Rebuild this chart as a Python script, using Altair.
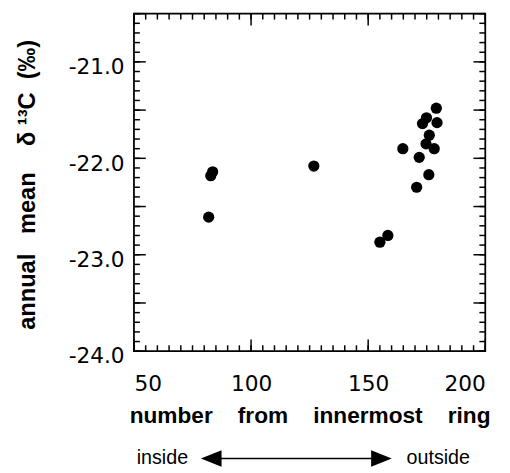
import altair as alt
import pandas as pd

# ---- data ----
ring_number = [82.8, 83.6, 81.9, 126.8, 155.0, 158.4, 179.1, 174.9, 173.2,
               179.4, 176.1, 174.7, 178.2, 164.8, 171.8, 175.9, 170.7]
d13c = [-22.18, -22.14, -22.61, -22.08, -22.87, -22.80, -21.48, -21.58, -21.64,
        -21.63, -21.76, -21.85, -21.90, -21.90, -21.99, -22.17, -22.30]

x_labels = [50, 100, 150, 200]
x_major = [50, 100, 150, 200]
x_minor = [50, 55, 60, 65, 70, 75, 80, 85, 90, 95, 100, 105, 110, 115, 120, 125,
           130, 135, 140, 145, 150, 155, 160, 165, 170, 175, 180, 185, 190, 195, 200]
y_labels = [-24.0, -23.0, -22.0, -21.0]
y_major = [-24.0, -23.5, -23.0, -22.5, -22.0, -21.5, -21.0, -20.5]
y_minor = [round(-24.0 + 0.1 * i, 1) for i in range(36)]

x_title = "number\u00a0\u00a0\u00a0\u00a0from\u00a0\u00a0\u00a0\u00a0innermost\u00a0\u00a0\u00a0\u00a0ring"
y_title = "annual\u00a0\u00a0\u00a0mean\u00a0\u00a0\u00a0\u00a0\u03b4\u00a0\u00b9\u00b3C\u00a0\u00a0(\u2030)"

df = pd.DataFrame({"ring": ring_number, "d13c": d13c})

W, H = 357, 343
xs = alt.Scale(domain=[50, 200], nice=False, zero=False)
ys = alt.Scale(domain=[-24.0, -20.5], nice=False, zero=False)

LABEL_FONT = "DejaVu Sans"
TITLE_FONT = "Liberation Sans"
TW = 1.5

x_axis = alt.Axis(orient="bottom", values=x_labels, ticks=False, domain=False,
                  grid=False, labelPadding=23, labelFont=LABEL_FONT,
                  labelFontSize=22, labelColor="black",
                  titleFont=TITLE_FONT, titleFontSize=23, titleFontWeight="bold",
                  titleColor="black", titleY=72, titleBaseline="alphabetic")
y_axis = alt.Axis(orient="left", values=y_labels, ticks=False, domain=False,
                  grid=False, labelPadding=10, labelFont=LABEL_FONT,
                  labelFontSize=22, labelColor="black", labelOffset=5,
                  labelExpr="'-' + format(abs(datum.value), '.1f')",
                  titleFont=TITLE_FONT, titleFontSize=24, titleFontWeight="bold",
                  titleColor="black", titleX=-108, titleY=H / 2 + 2,
                  titleAngle=270, titleAlign="center", titleBaseline="middle")


def xticks(vals, y0, y1):
    return alt.Chart(pd.DataFrame({"xv": vals})).mark_rule(color="black", strokeWidth=TW).encode(
        x=alt.X("xv:Q", scale=xs, axis=x_axis, title=x_title), y=alt.value(y0), y2=alt.value(y1))


def yticks(vals, x0, x1):
    return alt.Chart(pd.DataFrame({"yv": vals})).mark_rule(color="black", strokeWidth=TW).encode(
        y=alt.Y("yv:Q", scale=ys, axis=y_axis, title=y_title), x=alt.value(x0), x2=alt.value(x1))


tick_layers = [
    xticks(x_minor, H, H - 6), xticks(x_minor, 0, 6),
    xticks(x_major, H, H - 12), xticks(x_major, 0, 12),
    yticks(y_minor, 0, 6), yticks(y_minor, W, W - 6),
    yticks(y_major, 0, 12), yticks(y_major, W, W - 12),
]

points = alt.Chart(df).mark_circle(size=130, color="black", opacity=1).encode(
    x=alt.X("ring:Q", scale=xs, title=x_title, axis=x_axis),
    y=alt.Y("d13c:Q", scale=ys, title=y_title, axis=y_axis),
)

one = pd.DataFrame({"t": ["inside"]})
two = pd.DataFrame({"t": ["outside"]})

inside_txt = alt.Chart(one).mark_text(align="right", baseline="alphabetic", font=TITLE_FONT,
                                      fontSize=20, color="black").encode(
    x=alt.value(55), y=alt.value(458), text="t:N")
outside_txt = alt.Chart(two).mark_text(align="left", baseline="alphabetic", font=TITLE_FONT,
                                       fontSize=20, color="black").encode(
    x=alt.value(277), y=alt.value(458), text="t:N")
arrow_line = alt.Chart(one).mark_rule(color="black", strokeWidth=1.5).encode(
    x=alt.value(78), x2=alt.value(252), y=alt.value(452))
head_left = alt.Chart(one).mark_point(shape="M-1,0L1,-0.8L1,0.8Z", filled=True, size=441,
                                      color="black", opacity=1).encode(
    x=alt.value(78.5), y=alt.value(452))
head_right = alt.Chart(one).mark_point(shape="M1,0L-1,-0.8L-1,0.8Z", filled=True, size=441,
                                       color="black", opacity=1).encode(
    x=alt.value(251.5), y=alt.value(452))

chart = alt.layer(
    points, *tick_layers,
    inside_txt, outside_txt, arrow_line, head_left, head_right,
).properties(
    width=W, height=H,
    padding={"left": 128, "top": 2, "right": 17, "bottom": 118},
    autosize=alt.AutoSizeParams(type="none"),
    background="white",
).configure_view(
    stroke="black", strokeWidth=1.8
)

chart.save("out.html", embed_options={"renderer": "svg", "actions": False})
